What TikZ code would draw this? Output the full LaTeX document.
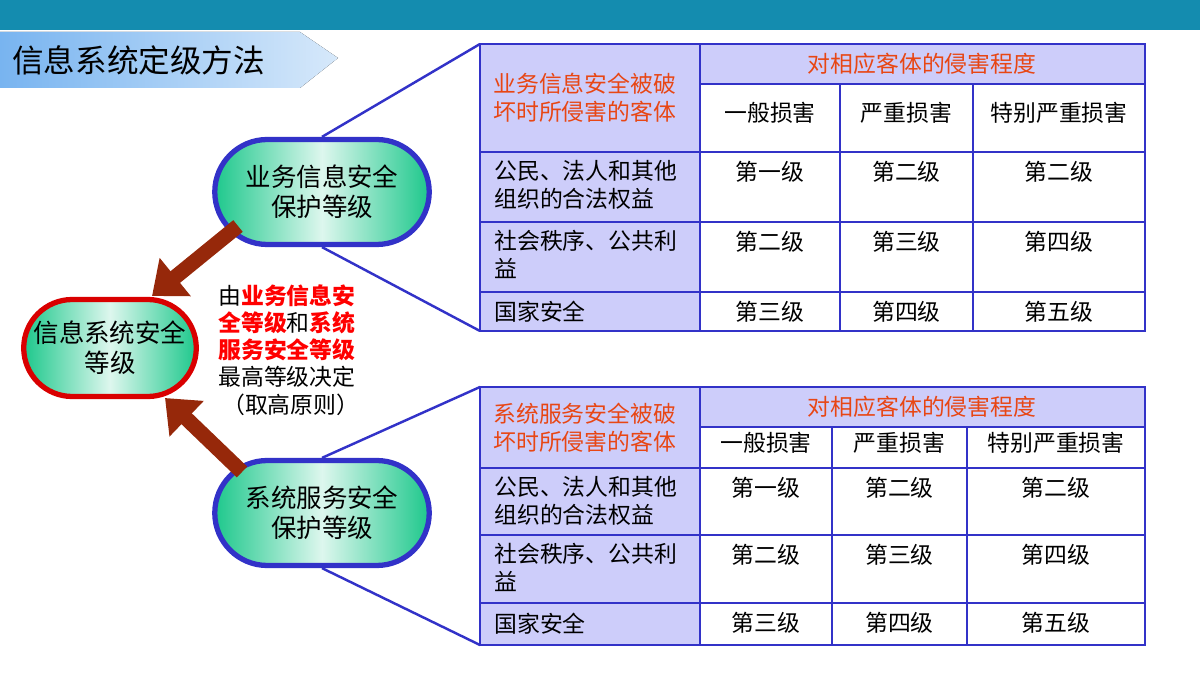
\documentclass[tikz,border=0pt]{standalone}
\usepackage{fontspec}
\setmainfont{Noto Sans CJK SC}
\usetikzlibrary{arrows.meta,positioning,shapes.misc}
\definecolor{barteal}{RGB}{20,140,175}
\definecolor{bannerblue}{RGB}{120,180,240}
\definecolor{gridblue}{RGB}{50,50,200}
\definecolor{lavender}{RGB}{205,205,250}
\definecolor{headred}{RGB}{232,70,20}
\definecolor{nodegreen}{RGB}{30,200,140}
\definecolor{arrowbrown}{RGB}{150,40,10}
\tikzset{
  px/.style={x=0.02cm,y=-0.02cm},
  grid/.style={draw=gridblue,line width=1.6pt},
  txt/.style={font=\fontsize{13}{16}\selectfont,inner sep=0pt},
  levelbox/.style={rounded rectangle,draw=gridblue,line width=3pt,
    minimum width=4.36cm,minimum height=2.1cm,align=center,
    left color=nodegreen,right color=nodegreen,middle color=nodegreen!15,
    font=\fontsize{14.5}{17}\selectfont,inner sep=1pt},
  bigarrow/.style={arrowbrown,line width=3mm,-{Triangle[length=6mm,width=9.5mm]}},
  tie/.style={draw=gridblue,line width=1.4pt}
}
\begin{document}
\begin{tikzpicture}[px]
\useasboundingbox (0,0) rectangle (1200,678);
% top bar and title banner
\fill[barteal] (0,0) rectangle (1200,30);
\fill[left color=bannerblue,right color=bannerblue!30] (0,32) -- (300,32) -- (338,58) -- (300,88) -- (0,88) -- cycle;
\node[anchor=west,font=\fontsize{18}{20}\selectfont] (title) at (6,60) {信息系统定级方法};

% the two tables
\foreach \t/\ya/\yb/\yc/\yd/\ye/\yf/\xb/\xc/\head in
  {A/44/84/152/222/292/331/840/973/业务信息安全被破,
   B/387/427/468/535/603/645/832/967/系统服务安全被破}{
  \fill[lavender] (480,\ya) rectangle (700,\yf);
  \fill[lavender] (700,\ya) rectangle (1145,\yb);
  \fill[white] (700,\yb) rectangle (1145,\yf);
  \draw[grid] (480,\ya) rectangle (1145,\yf);
  \draw[grid] (700,\ya) -- (700,\yf) (\xb,\yb) -- (\xb,\yf) (\xc,\yb) -- (\xc,\yf);
  \draw[grid] (700,\yb) -- (1145,\yb);
  \foreach \y in {\yc,\yd,\ye} \draw[grid] (480,\y) -- (1145,\y);
  \node[txt,text=headred,anchor=center] (\t head) at (922,{(\ya+\yb)/2}) {对相应客体的侵害程度};
  \node[txt,text=headred,anchor=west,align=left] (\t obj) at (493,{(\ya+\yc)/2}) {\head\\坏时所侵害的客体};
  \node[txt] (\t c1) at ({(700+\xb)/2},{(\yb+\yc)/2-5}) {一般损害};
  \node[txt] (\t c2) at ({(\xb+\xc)/2},{(\yb+\yc)/2-5}) {严重损害};
  \node[txt] (\t c3) at ({(\xc+1145)/2},{(\yb+\yc)/2-5}) {特别严重损害};
  \node[txt,anchor=north west,align=left] (\t r1) at (494,{\yc+8}) {公民、法人和其他\\组织的合法权益};
  \node[txt,anchor=north west,align=left] (\t r2) at (494,{\yd+8}) {社会秩序、公共利\\益};
  \node[txt,anchor=west] (\t r3) at (494,{(\ye+\yf)/2}) {国家安全};
  \foreach \r/\ry/\ga/\gb/\gc in {1/\yc/第一级/第二级/第二级,2/\yd/第二级/第三级/第四级,3/\ye/第三级/第四级/第五级}{
    \node[txt] at ({(700+\xb)/2},{\ry+20}) {\ga};
    \node[txt] at ({(\xb+\xc)/2},{\ry+20}) {\gb};
    \node[txt] at ({(\xc+1145)/2},{\ry+20}) {\gc};
  }
}

% level nodes
\node[levelbox] (bizlevel) at (322,192) {业务信息安全\\保护等级};
\node[levelbox] (svclevel) at (322,513) {系统服务安全\\保护等级};
\node[levelbox,draw=red!85!black,minimum width=3.4cm,minimum height=1.94cm] (syslevel) at (110,348) {信息系统安全\\等级};

\coordinate (Atl) at (480,44);  \coordinate (Abl) at (480,331);
\coordinate (Btl) at (480,387); \coordinate (Bbl) at (480,645);
\draw[tie] (bizlevel.north) -- (Atl) (bizlevel.south) -- (Abl);
\draw[tie] (svclevel.north) -- (Btl) (svclevel.south) -- (Bbl);

\coordinate (bizfoot) at (238,226);
\coordinate (svcfoot) at (242,472);
\coordinate (systop) at (152,296);
\coordinate (sysbot) at (165,398);
\draw[bigarrow] (bizfoot) -- (systop);
\draw[bigarrow] (svcfoot) -- (sysbot);
\draw[tie,draw=none] (bizfoot) -- (bizlevel) (svcfoot) -- (svclevel) (systop) -- (syslevel);

\node[txt,font=\fontsize{13}{15.5}\selectfont,align=left,anchor=north west] (rule) at (218,284)
  {由\textcolor{red}{\bfseries 业务信息安}\\\textcolor{red}{\bfseries 全等级}和\textcolor{red}{\bfseries 系统}\\\textcolor{red}{\bfseries 服务安全等级}\\最高等级决定\\\,（取高原则）};
\end{tikzpicture}
\end{document}
